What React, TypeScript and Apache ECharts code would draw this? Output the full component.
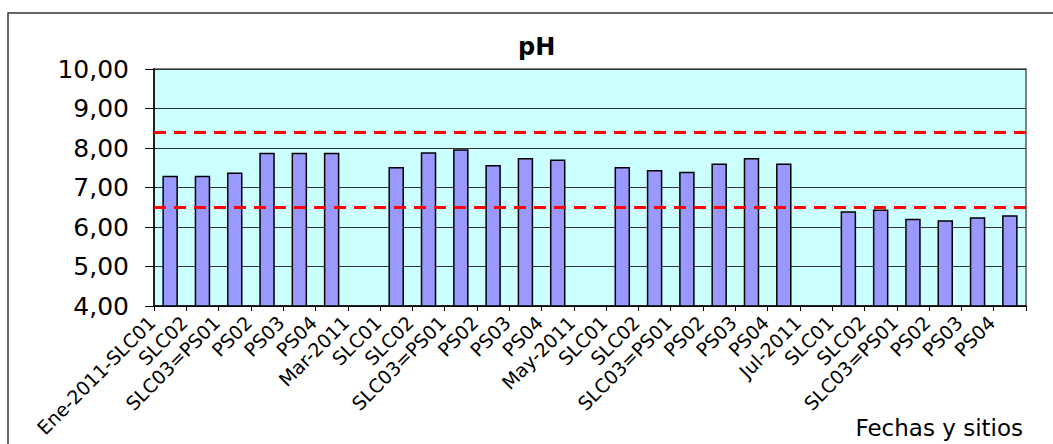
import React, { useEffect, useRef } from "react";
import * as echarts from "echarts";

const categories = [
  "Ene-2011-SLC01", "SLC02", "SLC03=PS01", "PS02", "PS03", "PS04",
  "Mar-2011", "SLC01", "SLC02", "SLC03=PS01", "PS02", "PS03", "PS04",
  "May-2011", "SLC01", "SLC02", "SLC03=PS01", "PS02", "PS03", "PS04",
  "Jul-2011", "SLC01", "SLC02", "SLC03=PS01", "PS02", "PS03", "PS04",
];

const phValues: (number | null)[] = [
  7.30, 7.30, 7.38, 7.88, 7.88, 7.88,
  null, 7.52, 7.89, 7.97, 7.57, 7.75, 7.71,
  null, 7.52, 7.44, 7.40, 7.61, 7.75, 7.61,
  null, 6.40, 6.44, 6.21, 6.17, 6.25, 6.30,
];

const limits = [8.4, 6.5];

const yMin = 4;
const yMax = 10;
const yStep = 1;

const FONT = "'DejaVu Sans', Arial, sans-serif";

export default function App() {
  const ref = useRef<HTMLDivElement>(null);

  useEffect(() => {
    if (!ref.current) return;
    const chart = echarts.init(ref.current, null, { renderer: "svg" });
    chart.setOption({
      animation: false,
      backgroundColor: "#ffffff",
      title: {
        text: "pH",
        left: 518,
        top: 35,
        padding: 0,
        textStyle: { fontFamily: FONT, fontSize: 24, fontWeight: "bold", color: "#000" },
      },
      graphic: [
        {
          type: "rect",
          shape: { x: 8, y: 13, width: 2000, height: 1000 },
          style: { fill: "none", stroke: "#333", lineWidth: 1.5 },
          silent: true,
        },
      ],
      grid: {
        left: 154,
        top: 69,
        right: 27,
        bottom: 138,
        containLabel: false,
        outerBoundsMode: "none",
        show: true,
        backgroundColor: "#CCFFFF",
        borderColor: "#808080",
        borderWidth: 2,
      },
      xAxis: {
        type: "category",
        data: categories,
        name: "Fechas y sitios",
        nameLocation: "end",
        nameGap: -3,
        nameTextStyle: {
          fontFamily: FONT,
          fontSize: 23,
          color: "#000",
          align: "right",
          verticalAlign: "top",
          padding: [110, 0, 0, 0],
        },
        axisLine: { lineStyle: { color: "#000", width: 1.5 } },
        axisTick: { show: true, length: 5, lineStyle: { color: "#000" } },
        axisLabel: {
          interval: 0,
          rotate: 45,
          margin: -5,
          padding: [0, 26, 0, 0],
          fontFamily: FONT,
          fontSize: 19,
          color: "#000",
        },
        splitLine: { show: false },
      },
      yAxis: {
        type: "value",
        min: yMin,
        max: yMax,
        interval: yStep,
        axisLine: { show: true, lineStyle: { color: "#000", width: 1.5 } },
        axisTick: { show: true, length: 9, lineStyle: { color: "#000" } },
        axisLabel: {
          margin: 25,
          fontFamily: FONT,
          fontSize: 25,
          color: "#000",
          formatter: (v: number) => v.toFixed(2).replace(".", ","),
        },
        splitLine: { show: true, lineStyle: { color: "#333", width: 1 } },
      },
      series: [
        {
          type: "bar",
          data: phValues,
          barWidth: "48%",
          itemStyle: { color: "#9999FF", borderColor: "#000", borderWidth: 1.5 },
          markLine: {
            silent: true,
            symbol: "none",
            label: { show: false },
            lineStyle: { color: "#FF0000", width: 3, type: [12, 8] },
            data: limits.map((v) => ({ yAxis: v })),
          },
        },
      ],
    });
    return () => chart.dispose();
  }, []);

  return (
    <div
      ref={ref}
      style={{ position: "absolute", left: 0, top: 0, width: 1053, height: 444 }}
    />
  );
}
